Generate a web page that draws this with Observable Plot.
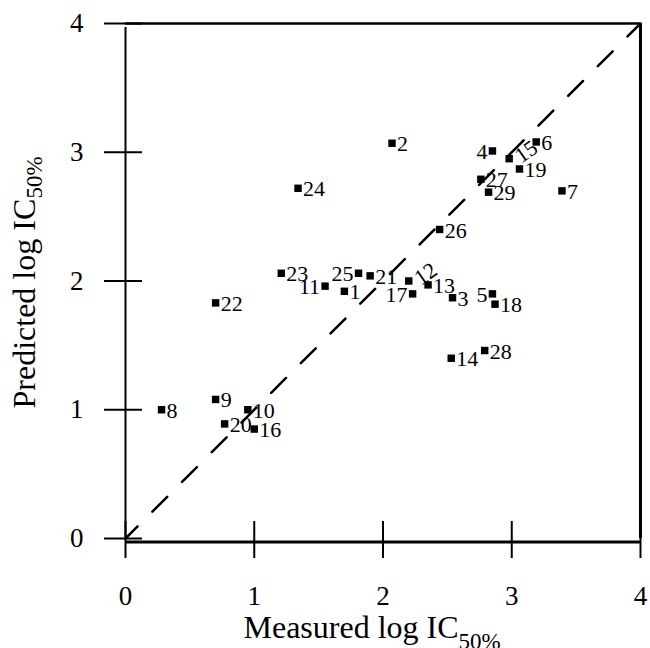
<!DOCTYPE html>
<html><head><meta charset="utf-8">
<script src="https://cdn.jsdelivr.net/npm/d3@7"></script>
<script src="https://cdn.jsdelivr.net/npm/@observablehq/plot@0.6"></script>
<style>body{margin:0;background:#fff}</style>
</head><body><div id="chart"></div>
<script>
// compound numbers
const ids = [1,2,3,4,5,6,7,8,9,10,11,12,13,14,15,16,17,18,19,20,21,22,23,24,25,26,27,28,29];
// measured log IC50% (x)
const measured = [1.70,2.07,2.54,2.85,2.85,3.19,3.39,0.28,0.70,0.95,1.55,2.20,2.35,2.53,2.98,1.00,2.23,2.87,3.06,0.77,1.90,0.70,1.21,1.34,1.81,2.44,2.76,2.79,2.82];
// predicted log IC50% (y)
const predicted = [1.92,3.07,1.87,3.01,1.90,3.08,2.70,1.00,1.08,1.00,1.96,2.00,1.97,1.40,2.95,0.85,1.90,1.82,2.87,0.89,2.04,1.83,2.06,2.72,2.06,2.40,2.79,1.46,2.69];
const xTicks = [0,1,2,3,4];
const yTicks = [0,1,2,3,4];
const diagX = [0,4];
const diagY = [0,4];
const xTitle = "Measured log IC";
const yTitle = "Predicted log IC";
const titleSub = "50%";

const labelsLeft = new Set([4,5,11,17,25]);
const labelsTilted = new Set([12,15]);

const pts = ids.map((id,i) => ({id, x: measured[i], y: predicted[i]}));
const diag = diagX.map((x,i) => ({x, y: diagY[i]}));

const font = "'Liberation Serif','Times New Roman',serif";
const W = 650, H = 648;
const mL = 125, mR = 10, mT = 23, mB = 110;
const frameH = H - mT - mB, frameW = W - mL - mR;

const chart = Plot.plot({
  width: W, height: H,
  marginLeft: mL, marginRight: mR, marginTop: mT, marginBottom: mB,
  style: {fontFamily: font, background: "#fff", color: "#000"},
  x: {domain: [0,4]},
  y: {domain: [0,4]},
  marks: [
    // frame lines
    Plot.ruleX([0], {strokeWidth: 2, y1: 0, y2: 4, insetBottom: -4}),
    Plot.ruleX([4], {strokeWidth: 3}),
    Plot.ruleY([4], {strokeWidth: 2.7}),
    Plot.ruleY([0], {strokeWidth: 3, dy: 3.5}),
    // inner tick parts
    Plot.ruleX(xTicks, {strokeWidth: 2, insetTop: frameH - 17}),
    Plot.ruleY(yTicks, {strokeWidth: 2, insetRight: frameW - 17}),
    // axes
    Plot.axisX(xTicks, {tickSize: 20, tickPadding: 27, fontSize: 27, strokeWidth: 2, label: null, tickFormat: d => String(d)}),
    Plot.axisY(yTicks, {tickSize: 21, tickPadding: 21, fontSize: 27, strokeWidth: 2, label: null, tickFormat: d => String(d)}),
    // identity line
    Plot.line(diag, {x: "x", y: "y", stroke: "#000", strokeWidth: 2.5, strokeDasharray: "21,21", strokeDashoffset: 4}),
    // points
    Plot.dot(pts, {x: "x", y: "y", symbol: "square", r: 4.2, fill: "#000", stroke: null}),
    // labels
    Plot.text(pts.filter(d => !labelsLeft.has(d.id) && !labelsTilted.has(d.id)), {x: "x", y: "y", text: d => String(d.id), textAnchor: "start", dx: 5, dy: 1, fontSize: 22}),
    Plot.text(pts.filter(d => labelsLeft.has(d.id)), {x: "x", y: "y", text: d => String(d.id), textAnchor: "end", dx: -5, dy: 1, fontSize: 22}),
    Plot.text(pts.filter(d => labelsTilted.has(d.id)), {x: "x", y: "y", text: d => String(d.id), textAnchor: "middle", dx: 17, dy: -7, rotate: -35, fontSize: 22}),
    // axis titles
    Plot.text([xTitle], {frameAnchor: "bottom", lineAnchor: "middle", text: d => d, textAnchor: "start", dx: -139.5, dy: 89, fontSize: 32}),
    Plot.text([titleSub], {frameAnchor: "bottom", lineAnchor: "middle", text: d => d, textAnchor: "start", dx: 75.5, dy: 103, fontSize: 23}),
    Plot.text([yTitle], {frameAnchor: "left", lineAnchor: "middle", text: d => d, textAnchor: "start", rotate: -90, dx: -101, dy: 127.5, fontSize: 32}),
    Plot.text([titleSub], {frameAnchor: "left", lineAnchor: "middle", text: d => d, textAnchor: "start", rotate: -90, dx: -90.5, dy: -82.5, fontSize: 23})
  ]
});
document.getElementById("chart").appendChild(chart);
</script>
</body></html>
